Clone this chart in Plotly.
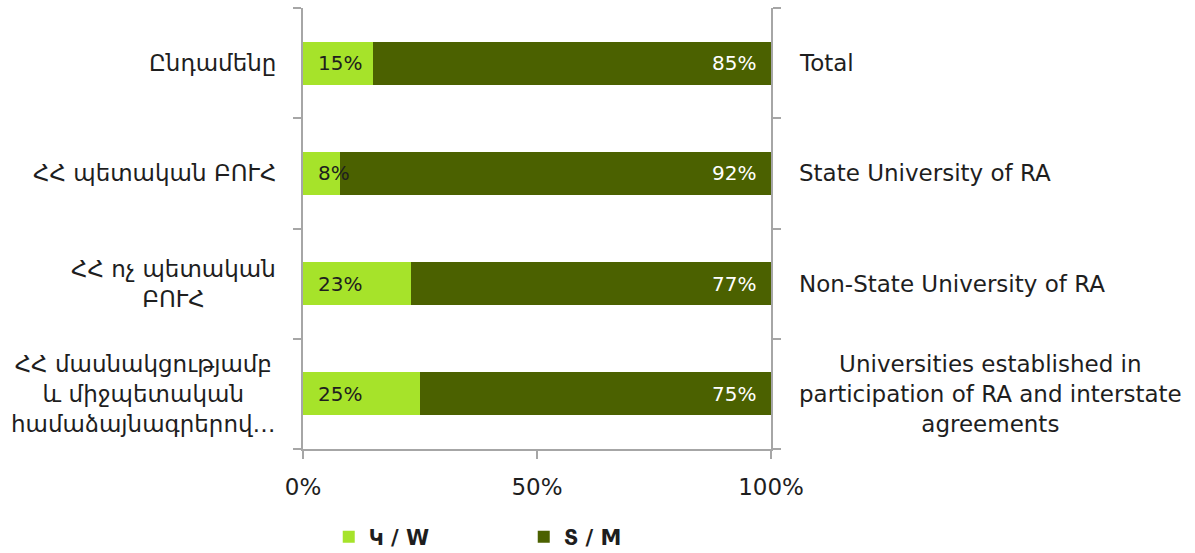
import plotly.graph_objects as go

categories_hy = [
    "Ընդամենը",
    "ՀՀ պետական ԲՈՒՀ",
    "ՀՀ ոչ պետական<br>ԲՈՒՀ",
    "ՀՀ մասնակցությամբ<br>և միջպետական<br>համաձայնագրերով…",
]
categories_en = [
    "Total",
    "State University of RA",
    "Non-State University of RA",
    "Universities established in<br>participation of RA and interstate<br>agreements",
]
women = [0.15, 0.08, 0.23, 0.25]
men = [0.85, 0.92, 0.77, 0.75]
series_names = ["Կ / W", "Տ / M"]
x_ticks = [0, 0.5, 1.0]
x_tick_labels = ["0%", "50%", "100%"]

C_LIGHT = "#a6e32a"
C_DARK = "#4b6100"
AXIS = "#a6a6a6"
FONT = "DejaVu Sans"
TXT = "#1e1e1e"

keys = list(range(len(categories_en)))

fig = go.Figure()
fig.add_trace(go.Bar(y=keys, x=women, orientation="h", name=series_names[0],
                     marker=dict(color=C_LIGHT, line=dict(width=0)), hoverinfo="x"))
fig.add_trace(go.Bar(y=keys, x=men, orientation="h", name=series_names[1],
                     marker=dict(color=C_DARK, line=dict(width=0)), hoverinfo="x"))

ann = []
for k in keys:
    ann.append(dict(x=0, y=k, xref="x", yref="y", text=f"{round(women[k]*100)}%",
                    xanchor="left", xshift=13, showarrow=False,
                    font=dict(family=FONT, size=20, color=TXT)))
    ann.append(dict(x=women[k] + men[k], y=k, xref="x", yref="y", text=f"{round(men[k]*100)}%",
                    xanchor="right", xshift=-13, showarrow=False,
                    font=dict(family=FONT, size=20, color="white")))
    ann.append(dict(x=0, y=k, xref="paper", yref="y", text=categories_hy[k],
                    xanchor="right", xshift=-25, align="center", showarrow=False,
                    font=dict(family=FONT, size=23, color=TXT)))
    ann.append(dict(x=1, y=k, xref="paper", yref="y", text=categories_en[k],
                    xanchor="left", xshift=26, align="center", showarrow=False,
                    font=dict(family=FONT, size=23, color=TXT)))

fig.update_layout(
    barmode="stack",
    bargap=0.61,
    width=1195, height=553,
    margin=dict(l=303, r=424, t=8, b=104, autoexpand=False),
    paper_bgcolor="white", plot_bgcolor="white",
    font=dict(family=FONT, color=TXT),
    annotations=ann,
    showlegend=True,
    legend=dict(orientation="h", x=0.055, y=-0.2, xanchor="left", yanchor="middle",
                font=dict(family=FONT, size=21, color=TXT, weight="bold"),
                entrywidth=150, itemwidth=30, traceorder="normal"),
    xaxis=dict(range=[0, 1], tickvals=x_ticks, ticktext=x_tick_labels,
               showgrid=False, zeroline=False, showline=True, linecolor=AXIS, linewidth=1.5,
               ticks="outside", ticklen=8, tickcolor=AXIS, tickwidth=1.5,
               tickfont=dict(family=FONT, size=23, color=TXT), ticklabelstandoff=9),
    yaxis=dict(type="category", autorange="reversed", tickvals=keys, ticktext=[""] * 4,
               showgrid=False, zeroline=False, showline=True, linecolor=AXIS, linewidth=1.5,
               mirror="ticks", ticks="outside", ticklen=8, tickcolor=AXIS, tickwidth=1.5,
               tickson="boundaries", showticklabels=False),
)

fig.write_html("out.html", config={"displayModeBar": False},
               post_script="document.body.style.margin='0';document.body.style.overflow='hidden';")
